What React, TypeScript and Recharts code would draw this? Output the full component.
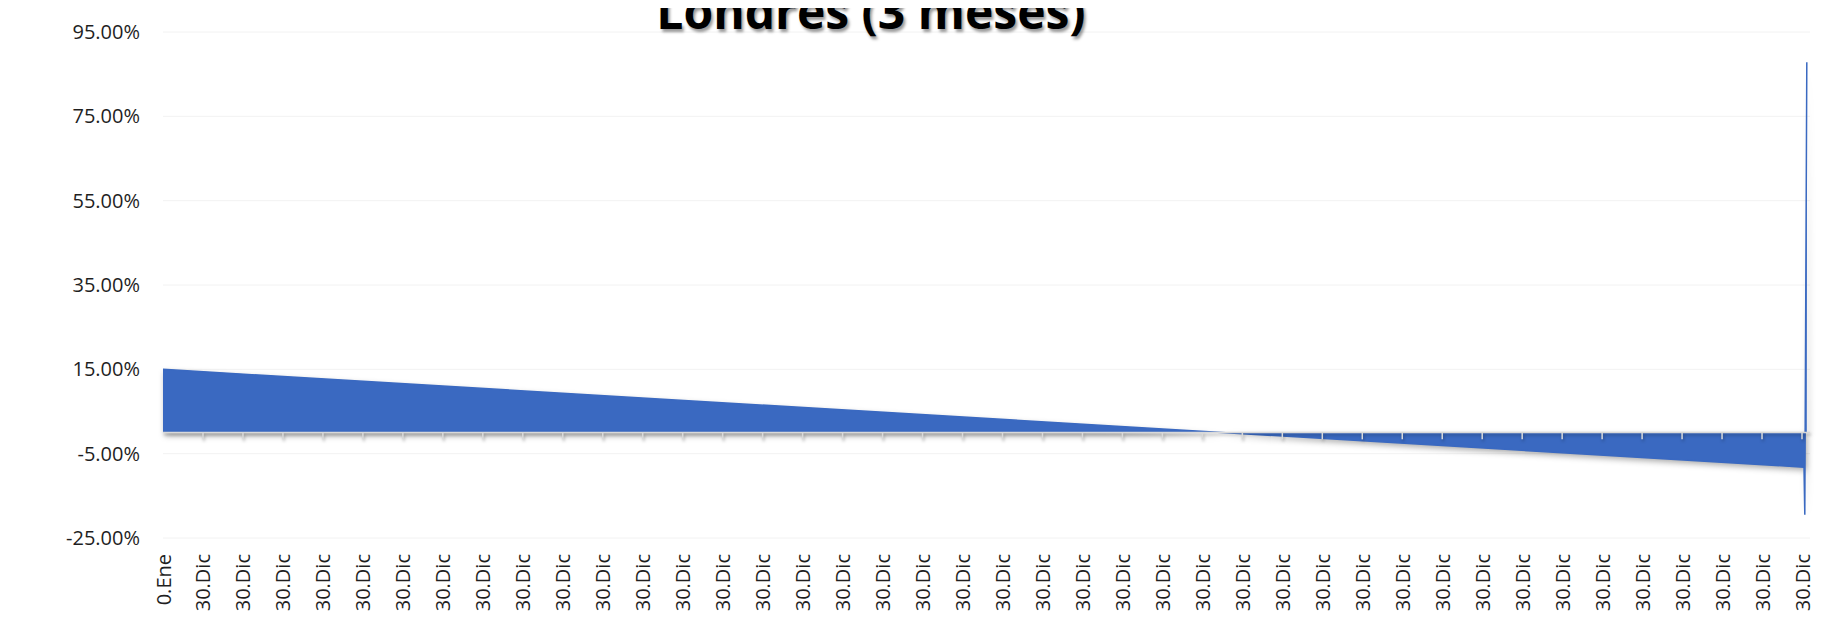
import { AreaChart, Area, XAxis, YAxis, CartesianGrid, ReferenceLine } from "recharts";

// tick labels along the bottom: first is "0.Ene", the rest all read "30.Dic"
const xLabels: string[] = ["0.Ene", ...Array.from({ length: 41 }, () => "30.Dic")];
const xTicks: number[] = xLabels.map((_, i) => i);

// series (x in tick units, y in %)
const seriesX = [0, 41.05, 41.07, 41.12];
const seriesY = [15.0, -8.2, -19.5, 87.8];

const yTicks = [-25, -5, 15, 35, 55, 75, 95];

const data = seriesX.map((x, i) => ({ x, v: seriesY[i] }));

const BLUE = "#3A69C1";
const FONT = "'Open Sans', sans-serif";

interface XTickProps { x?: number; y?: number; payload?: { value: number }; }

const RotatedTick = ({ x = 0, y = 0, payload }: XTickProps) => (
  <text
    transform={`translate(${x},${y}) rotate(-90)`}
    textAnchor="end"
    dominantBaseline="central"
    fontSize={20}
    fontFamily={FONT}
    fill="#1f1f1f"
  >
    {xLabels[payload?.value ?? 0]}
  </text>
);

const App = () => {
  return (
    <div style={{ position: "relative", width: 1840, height: 610 }}>
      <style>{`
        .area-shadow .recharts-area-area { filter: drop-shadow(2px 3px 3px rgba(0,0,0,0.35)); }
        .zero-axis line { filter: drop-shadow(1px 2px 1.5px rgba(0,0,0,0.3)); }
      `}</style>
      <div
        style={{
          position: "absolute",
          left: 0,
          width: 1726,
          top: -21,
          textAlign: "center",
          fontFamily: FONT,
          fontWeight: 700,
          fontSize: 48,
          lineHeight: 1,
          color: "#000",
          textShadow: "2px 3px 3px rgba(0,0,0,0.4)",
          zIndex: 2,
        }}
      >
        Londres (3 meses)
      </div>
      <AreaChart width={1840} height={610} data={data} margin={{ top: 24, right: 38, bottom: 0, left: 55 }}>
        <CartesianGrid horizontal vertical={false} stroke="#f2f2f2" />
        <XAxis
          dataKey="x"
          type="number"
          domain={[0, 41.2]}
          ticks={xTicks}
          interval={0}
          axisLine={false}
          tickLine={false}
          tickSize={0}
          tickMargin={16}
          height={80}
          tick={<RotatedTick />}
        />
        <YAxis
          type="number"
          domain={[-25, 95]}
          ticks={yTicks}
          interval={0}
          axisLine={false}
          tickLine={false}
          tickSize={0}
          tickMargin={23}
          width={100}
          tickFormatter={(v: number) => `${v.toFixed(2)}%`}
          tick={{ fontSize: 20, fontFamily: FONT, fill: "#1f1f1f" }}
        />
        <Area
          className="area-shadow"
          type="linear"
          dataKey="v"
          baseValue={0}
          fill={BLUE}
          fillOpacity={1}
          stroke={BLUE}
          strokeWidth={1.5}
          isAnimationActive={false}
        />
        <ReferenceLine className="zero-axis" y={0} stroke="#d9d9d9" strokeWidth={1.5} />
        {xTicks.slice(1).map((t) => (
          <ReferenceLine
            key={`tick-${t}`}
            className="zero-axis"
            segment={[{ x: t, y: 0 }, { x: t, y: -1.6 }]}
            stroke="#d9d9d9"
            strokeWidth={1.5}
          />
        ))}
      </AreaChart>
    </div>
  );
};

export default App;
